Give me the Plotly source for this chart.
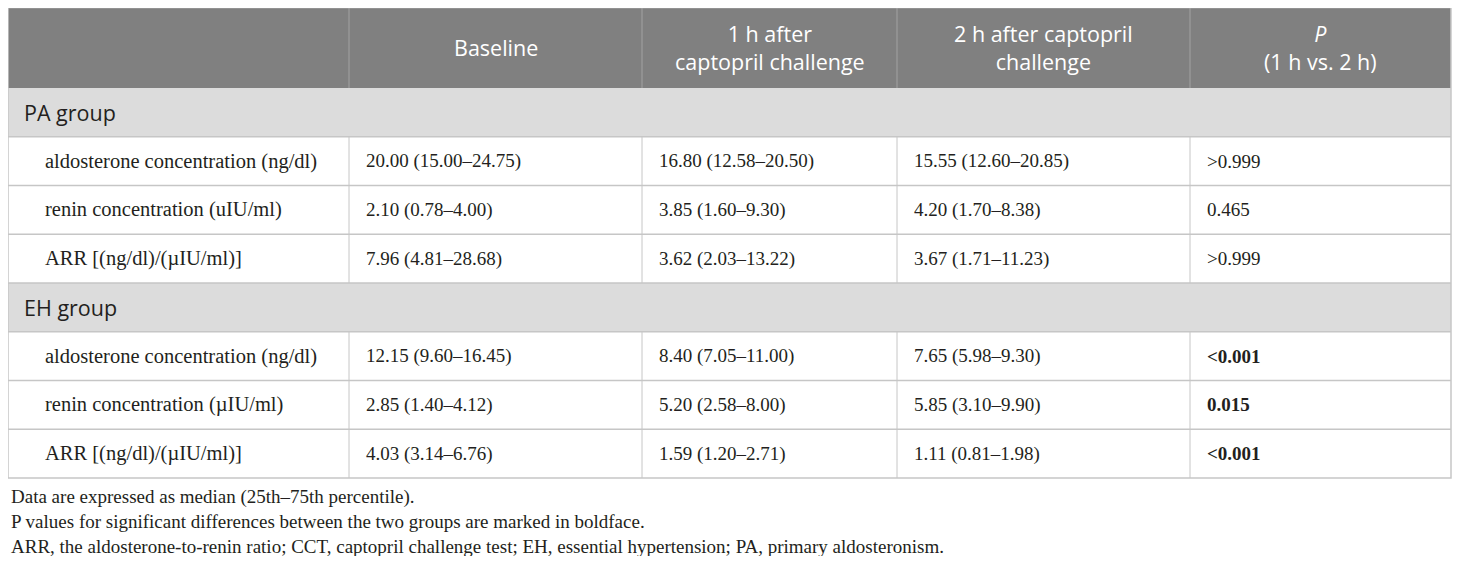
import plotly.graph_objects as go

# Table content
header = [
    "",
    "Baseline",
    "1 h after<br>captopril challenge",
    "2 h after captopril<br>challenge",
    "<i>P</i><br>(1 h vs. 2 h)",
]

groups = ["PA group", "EH group"]
measures = [
    ["aldosterone concentration (ng/dl)", "renin concentration (uIU/ml)", "ARR [(ng/dl)/(µIU/ml)]"],
    ["aldosterone concentration (ng/dl)", "renin concentration (µIU/ml)", "ARR [(ng/dl)/(µIU/ml)]"],
]

baseline = [
    ["20.00 (15.00–24.75)", "2.10 (0.78–4.00)", "7.96 (4.81–28.68)"],
    ["12.15 (9.60–16.45)", "2.85 (1.40–4.12)", "4.03 (3.14–6.76)"],
]
after_1h = [
    ["16.80 (12.58–20.50)", "3.85 (1.60–9.30)", "3.62 (2.03–13.22)"],
    ["8.40 (7.05–11.00)", "5.20 (2.58–8.00)", "1.59 (1.20–2.71)"],
]
after_2h = [
    ["15.55 (12.60–20.85)", "4.20 (1.70–8.38)", "3.67 (1.71–11.23)"],
    ["7.65 (5.98–9.30)", "5.85 (3.10–9.90)", "1.11 (0.81–1.98)"],
]
p_values = [
    [">0.999", "0.465", ">0.999"],
    ["<0.001", "0.015", "<0.001"],
]
p_bold = [
    [False, False, False],
    [True, True, True],
]

footnotes = [
    "Data are expressed as median (25th–75th percentile).",
    "P values for significant differences between the two groups are marked in boldface.",
    "ARR, the aldosterone-to-renin ratio; CCT, captopril challenge test; EH, essential hypertension; PA, primary aldosteronism.",
]

# layout / styling (axis units = screen pixels; the page body adds an 8px margin)
W, H = 1460, 564
body_margin = 8
col_edges = [8, 349, 642, 897, 1190, 1451]
table_top = 7.5
header_h = 80.5
row_h = 48.75
serif = "Liberation Serif"
sans = "Open Sans"
head_fill = "#808080"
head_sep = "#a2a2a2"
group_fill = "#dcdcdc"
border = "#c6c6c6"
text_col = "#231f20"

# build row list: (kind, cells)
rows = []
for g, grp in enumerate(groups):
    rows.append(("group", [grp]))
    for m in range(len(measures[g])):
        pv = p_values[g][m]
        if p_bold[g][m]:
            pv = "<b>" + pv + "</b>"
        rows.append(("data", [measures[g][m], baseline[g][m], after_1h[g][m], after_2h[g][m], pv]))

body_top = table_top + header_h
row_tops = [body_top + i * row_h for i in range(len(rows))]
table_bottom = body_top + len(rows) * row_h
left, right = col_edges[0], col_edges[-1]

fig = go.Figure()
shapes = []

# header band
shapes.append(dict(type="rect", x0=left, x1=right, y0=table_top, y1=body_top,
                   fillcolor=head_fill, line_width=0, layer="below"))
for xe in col_edges[1:-1]:
    shapes.append(dict(type="line", x0=xe, x1=xe, y0=table_top, y1=body_top,
                       line=dict(color=head_sep, width=1)))

for (kind, cells), y0 in zip(rows, row_tops):
    y1 = y0 + row_h
    if kind == "group":
        shapes.append(dict(type="rect", x0=left, x1=right, y0=y0, y1=y1,
                           fillcolor=group_fill, line_width=0, layer="below"))
    else:
        for xe in col_edges[1:-1]:
            shapes.append(dict(type="line", x0=xe, x1=xe, y0=y0, y1=y1,
                               line=dict(color=border, width=1)))
    if y0 > body_top:
        shapes.append(dict(type="line", x0=left, x1=right, y0=y0, y1=y0,
                           line=dict(color=border, width=1.5)))

# outer frame
shapes.append(dict(type="rect", x0=left, x1=right, y0=table_top, y1=table_bottom,
                   line=dict(color=border, width=1.5), fillcolor="rgba(0,0,0,0)"))

annotations = []

# header text
for c, txt in enumerate(header):
    if not txt:
        continue
    annotations.append(dict(
        text=txt, x=(col_edges[c] + col_edges[c + 1]) / 2, y=table_top + header_h / 2,
        xanchor="center", yanchor="middle", align="center", showarrow=False,
        font=dict(family=sans, size=21.5, color="white"),
    ))

# body text
for (kind, cells), y0 in zip(rows, row_tops):
    yc = y0 + row_h / 2
    if kind == "group":
        annotations.append(dict(
            text=cells[0], x=left + 14, y=yc, xanchor="left", yanchor="middle",
            showarrow=False, font=dict(family=sans, size=21.5, color=text_col),
        ))
        continue
    for c, txt in enumerate(cells):
        annotations.append(dict(
            text=txt, x=col_edges[c] + (35 if c == 0 else 15), y=yc,
            xanchor="left", yanchor="middle", showarrow=False,
            font=dict(family=serif, size=20.5 if c == 0 else 19, color=text_col),
        ))

# footnotes
for k, txt in enumerate(footnotes):
    annotations.append(dict(
        text=txt, x=left + 0.5, y=table_bottom + 19 + 24.5 * k,
        xanchor="left", yanchor="middle", showarrow=False,
        font=dict(family=serif, size=19, color=text_col),
    ))

fig.update_layout(
    width=W - 2 * body_margin,
    height=H - 2 * body_margin,
    margin=dict(l=0, r=0, t=0, b=0),
    paper_bgcolor="white",
    plot_bgcolor="white",
    xaxis=dict(range=[body_margin, W - body_margin], visible=False, fixedrange=True),
    yaxis=dict(range=[H - body_margin, body_margin], visible=False, fixedrange=True),
    shapes=shapes,
    annotations=annotations,
    showlegend=False,
)

fig.write_html("out.html")
